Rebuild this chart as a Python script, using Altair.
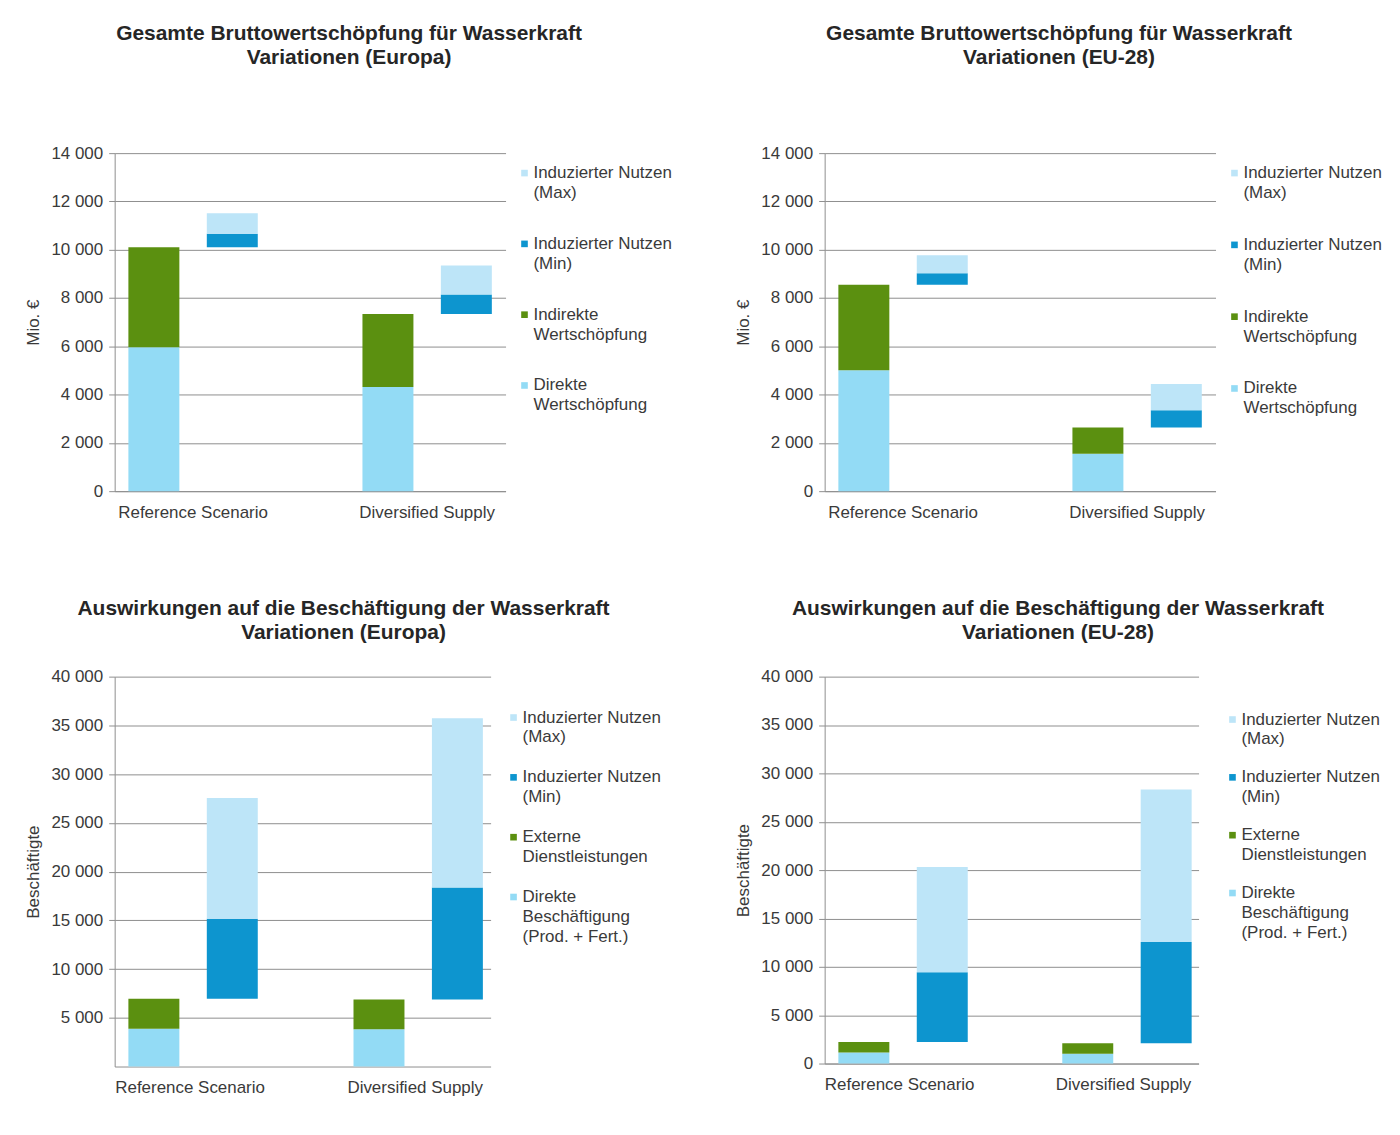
import altair as alt
import pandas as pd

FONT = "Liberation Sans"
TXT = "#3a3a3a"
GRID = "#8f8f8f"

scenarios = ["Reference Scenario", "Diversified Supply"]

keys = ["max", "min", "second", "direct"]
colors = ["#bde5f8", "#0d95cf", "#5b9010", "#93dbf5"]

gva_labels = ["Induzierter Nutzen\n(Max)", "Induzierter Nutzen\n(Min)",
              "Indirekte\nWertschöpfung", "Direkte\nWertschöpfung"]
emp_labels = ["Induzierter Nutzen\n(Max)", "Induzierter Nutzen\n(Min)",
              "Externe\nDienstleistungen", "Direkte\nBeschäftigung\n(Prod. + Fert.)"]

# Bruttowertschöpfung Europa (Mio. €)
gva_eu_direct = [5960, 4310]
gva_eu_indirect = [4140, 3030]
gva_eu_ind_min = [560, 810]
gva_eu_ind_max = [850, 1200]

# Bruttowertschöpfung EU-28 (Mio. €)
gva_28_direct = [5010, 1550]
gva_28_indirect = [3540, 1090]
gva_28_ind_min = [480, 710]
gva_28_ind_max = [740, 1090]

# Beschäftigung Europa
emp_eu_direct = [3880, 3820]
emp_eu_external = [3070, 3060]
emp_eu_ind_min = [8210, 11490]
emp_eu_ind_max = [12400, 17370]

# Beschäftigung EU-28
emp_28_direct = [1130, 1000]
emp_28_external = [1100, 1090]
emp_28_ind_min = [7200, 10470]
emp_28_ind_max = [10880, 15780]

gva_ticks = [0, 2000, 4000, 6000, 8000, 10000, 12000, 14000]
emp_ticks_eu = [5000, 10000, 15000, 20000, 25000, 30000, 35000, 40000]
emp_ticks_28 = [0, 5000, 10000, 15000, 20000, 25000, 30000, 35000, 40000]

LABEL_EXPR = ("datum.value >= 1000 ? floor(datum.value / 1000) + ' ' + "
              "format(datum.value % 1000, '03d') : format(datum.value, 'd')")


def build_df(direct, second, imin, imax):
    rows = []
    for i, s in enumerate(scenarios):
        base = direct[i] + second[i]
        rows.append(dict(scenario=s, part="base", key="direct", y0=0, y1=direct[i]))
        rows.append(dict(scenario=s, part="base", key="second", y0=direct[i], y1=base))
        rows.append(dict(scenario=s, part="induced", key="min", y0=base, y1=base + imin[i]))
        rows.append(dict(scenario=s, part="induced", key="max", y0=base + imin[i],
                         y1=base + imin[i] + imax[i]))
    return pd.DataFrame(rows)


def make_panel(direct, second, imin, imax, ymax, yvals, ytitle, title, labels,
               w, h, leg_step, leg_first, leg_gap, title_offset):
    df = build_df(direct, second, imin, imax)
    color = alt.Color("key:N", scale=alt.Scale(domain=keys, range=colors), legend=None)
    bars = alt.Chart(df).mark_bar().encode(
        x=alt.X("scenario:N", sort=scenarios,
                scale=alt.Scale(paddingInner=0.33, paddingOuter=0),
                axis=alt.Axis(title=None, labelAngle=0, ticks=False, grid=False,
                              labelPadding=13, domainColor=GRID)),
        xOffset=alt.XOffset("part:N", sort=["base", "induced"],
                            scale=alt.Scale(paddingInner=0.35, paddingOuter=0.175)),
        y=alt.Y("y0:Q", scale=alt.Scale(domain=[0, ymax], nice=False),
                axis=alt.Axis(values=yvals, labelExpr=LABEL_EXPR, title=ytitle,
                              tickSize=6, labelPadding=6, titlePadding=8,
                              domainColor=GRID, tickColor=GRID, gridColor=GRID)),
        y2="y1:Q",
        color=color,
    ).properties(width=w, height=h)

    off = leg_first - leg_step / 2
    leg_df = pd.DataFrame({"key": keys, "label": labels})
    lbase = alt.Chart(leg_df).encode(
        y=alt.Y("key:N", sort=keys, axis=None,
                scale=alt.Scale(paddingInner=0, paddingOuter=0)),
    )
    sq = lbase.mark_square(size=44, opacity=1, filled=True, yOffset=off).encode(
        x=alt.value(4), color=color)
    tx = lbase.mark_text(align="left", baseline="middle", lineBreak="\n", font=FONT,
                         fontSize=17, lineHeight=20, color=TXT, yOffset=off).encode(
        x=alt.value(13), text="label:N")
    legend = alt.layer(sq, tx).properties(width=165, height=leg_step * 4)

    return alt.hconcat(bars, legend, spacing=leg_gap).properties(
        title=alt.TitleParams(text=title, font=FONT, fontSize=21, fontWeight="bold",
                              color="#262626", anchor="middle", offset=title_offset,
                              lineHeight=24, dx=-6)
    )


p1 = make_panel(gva_eu_direct, gva_eu_indirect, gva_eu_ind_min, gva_eu_ind_max,
                14000, gva_ticks, "Mio. €",
                ["Gesamte Bruttowertschöpfung für Wasserkraft", "Variationen (Europa)"],
                gva_labels, 392, 339, 71, 20, 15, 76)
p2 = make_panel(gva_28_direct, gva_28_indirect, gva_28_ind_min, gva_28_ind_max,
                14000, gva_ticks, "Mio. €",
                ["Gesamte Bruttowertschöpfung für Wasserkraft", "Variationen (EU-28)"],
                gva_labels, 392, 339, 72, 20, 15, 76)
p3 = make_panel(emp_eu_direct, emp_eu_external, emp_eu_ind_min, emp_eu_ind_max,
                40000, emp_ticks_eu, "Beschäftigte",
                ["Auswirkungen auf die Beschäftigung der Wasserkraft", "Variationen (Europa)"],
                emp_labels, 377, 391, 60, 41, 19, 25)
p4 = make_panel(emp_28_direct, emp_28_external, emp_28_ind_min, emp_28_ind_max,
                40000, emp_ticks_28, "Beschäftigte",
                ["Auswirkungen auf die Beschäftigung der Wasserkraft", "Variationen (EU-28)"],
                emp_labels, 375, 388, 58, 43, 30, 25)

chart = alt.vconcat(
    alt.hconcat(p1, p2, spacing=50),
    alt.hconcat(p3, p4, spacing=61),
    spacing=78,
).properties(
    padding={"left": 25, "top": 22, "right": 5, "bottom": 5},
    background="white",
).configure_axis(
    labelFont=FONT, labelFontSize=17, labelColor=TXT,
    titleFont=FONT, titleFontSize=17, titleFontWeight="normal", titleColor=TXT,
).configure_view(stroke=None)

chart.save("out.html", embed_options={"renderer": "svg", "actions": False})
